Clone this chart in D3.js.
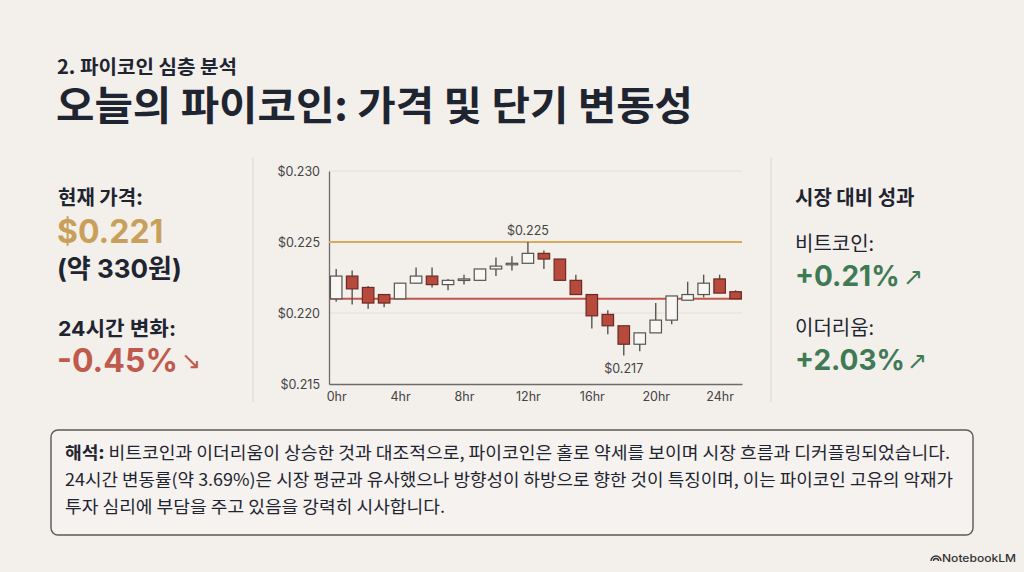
<!DOCTYPE html>
<html><head><meta charset="utf-8">
<script src="https://cdn.jsdelivr.net/npm/d3@7"></script>
<style>
html,body{margin:0;padding:0;background:#f3efeb;}
svg{display:block;}
</style></head>
<body>
<svg id="c" width="1024" height="572"></svg>
<script>
// ---- data ----
const hours  = [0,1,2,3,4,5,6,7,8,9,10,11,12,13,14,15,16,17,18,19,20,21,22,23,24,25];
const opens  = [0.2210,0.2226,0.2218,0.2213,0.2210,0.2221,0.2226,0.2220,0.2223,0.2223,0.2231,0.2234,0.2235,0.2242,0.2238,0.2223,0.2213,0.2199,0.2191,0.2178,0.2186,0.2195,0.2209,0.2213,0.2224,0.2215];
const closes = [0.2226,0.2217,0.2207,0.2207,0.2221,0.2226,0.2220,0.2223,0.2224,0.2231,0.2233,0.2235,0.2242,0.2238,0.2223,0.2213,0.2198,0.2191,0.2178,0.2186,0.2195,0.2212,0.2213,0.2221,0.2214,0.2210];
const highs  = [0.2231,0.2230,0.2219,0.2213,0.2221,0.2232,0.2232,0.2224,0.2227,0.2231,0.2239,0.2240,0.2250,0.2244,0.2238,0.2227,0.2213,0.2202,0.2191,0.2186,0.2207,0.2212,0.2222,0.2227,0.2227,0.2216];
const lows   = [0.2208,0.2206,0.2203,0.2204,0.2210,0.2221,0.2218,0.2216,0.2220,0.2223,0.2226,0.2230,0.2235,0.2231,0.2223,0.2213,0.2189,0.2185,0.2170,0.2173,0.2186,0.2192,0.2209,0.2211,0.2214,0.2210];
const yTicks = [0.215,0.220,0.225,0.230];
const xTicks = [0,4,8,12,16,20,24];
const resistance = 0.225;
const currentPrice = 0.221;
const annotations = [{h:12, v:0.2250, text:"$0.225", pos:"above"},{h:18, v:0.2170, text:"$0.217", pos:"below"}];

const KR = "'Noto Sans CJK KR','Noto Sans',sans-serif";
const NUM = "Inter,'Noto Sans CJK KR',sans-serif";
const dark = "#1f2530";
const gold = "#c9a05a";
const red = "#c05a4c";
const green = "#3f7a55";

const svg = d3.select("#c");

// ---- headings ----
svg.append("text").attr("x",57).attr("y",74).attr("font-family",KR).attr("font-weight",700)
  .attr("font-size",19.5).attr("fill",dark).attr("textLength",180).attr("lengthAdjust","spacingAndGlyphs").text("2. 파이코인 심층 분석");
svg.append("text").attr("x",56).attr("y",120).attr("font-family",KR).attr("font-weight",700)
  .attr("font-size",40).attr("fill",dark).attr("textLength",637).attr("lengthAdjust","spacingAndGlyphs").text("오늘의 파이코인: 가격 및 단기 변동성");

// ---- left panel ----
const L = svg.append("g");
L.append("text").attr("x",58).attr("y",205).attr("font-family",KR).attr("font-weight",700).attr("font-size",20).attr("fill",dark).text("현재 가격:");
L.append("text").attr("x",57).attr("y",243).attr("font-family",NUM).attr("font-weight",700).attr("font-size",32).attr("fill",gold).text("$0.221");
L.append("text").attr("x",57).attr("y",278).attr("font-family",NUM).attr("font-weight",700).attr("font-size",26).attr("fill",dark).text("(약 330원)");
L.append("text").attr("x",58).attr("y",336).attr("font-family",NUM).attr("font-weight",700).attr("font-size",20.5).attr("fill",dark).attr("textLength",118).attr("lengthAdjust","spacingAndGlyphs").text("24시간 변화:");
L.append("text").attr("x",57).attr("y",372).attr("font-family",NUM).attr("font-weight",700).attr("font-size",32).attr("fill",red).text("-0.45%");
L.append("text").attr("x",181).attr("y",369).attr("font-family","'DejaVu Sans',sans-serif").attr("font-size",24).attr("fill",red).text("↘");

// separators
svg.append("line").attr("x1",253).attr("x2",253).attr("y1",157).attr("y2",402).attr("stroke","#dcd7d2").attr("stroke-width",1);
svg.append("line").attr("x1",771).attr("x2",771).attr("y1",157).attr("y2",402).attr("stroke","#dcd7d2").attr("stroke-width",1);

// ---- right panel ----
const R = svg.append("g");
R.append("text").attr("x",795).attr("y",205).attr("font-family",KR).attr("font-weight",700).attr("font-size",20).attr("fill",dark).text("시장 대비 성과");
R.append("text").attr("x",795).attr("y",251).attr("font-family",KR).attr("font-weight",400).attr("font-size",20).attr("fill",dark).text("비트코인:");
R.append("text").attr("x",795).attr("y",286).attr("font-family",NUM).attr("font-weight",700).attr("font-size",28).attr("fill",green).text("+0.21%");
R.append("text").attr("x",903).attr("y",285).attr("font-family","'DejaVu Sans',sans-serif").attr("font-size",24).attr("fill",green).text("↗");
R.append("text").attr("x",795).attr("y",335).attr("font-family",KR).attr("font-weight",400).attr("font-size",20).attr("fill",dark).text("이더리움:");
R.append("text").attr("x",795).attr("y",370).attr("font-family",NUM).attr("font-weight",700).attr("font-size",28).attr("fill",green).text("+2.03%");
R.append("text").attr("x",907).attr("y",369).attr("font-family","'DejaVu Sans',sans-serif").attr("font-size",24).attr("fill",green).text("↗");

// ---- chart ----
const x = d3.scaleLinear().domain([-0.45,25.4]).range([329,742]);
const y = d3.scaleLinear().domain([0.215,0.230]).range([384,171]);
const g = svg.append("g");

// gridlines
g.selectAll("line.grid").data(yTicks.filter(t=>t>0.215)).enter().append("line")
  .attr("x1",x.range()[0]).attr("x2",x.range()[1]).attr("y1",d=>y(d)).attr("y2",d=>y(d))
  .attr("stroke","#e3deda").attr("stroke-width",1);

// y axis
const yAxis = d3.axisLeft(y).tickValues(yTicks).tickFormat(d=>"$"+d3.format(".3f")(d)).tickSize(0).tickPadding(9);
const ya = g.append("g").attr("transform",`translate(${x.range()[0]},0)`).call(yAxis);
ya.select(".domain").attr("stroke","#6b6b6b").attr("stroke-width",1.3);
ya.selectAll("text").attr("font-family",NUM).attr("font-size",12.5).attr("fill","#444");

// x axis
const xAxis = d3.axisBottom(x).tickValues(xTicks).tickFormat(d=>d+"hr").tickSize(0).tickPadding(8);
const xa = g.append("g").attr("transform",`translate(0,${y.range()[0]})`).call(xAxis);
xa.select(".domain").attr("stroke","#6b6b6b").attr("stroke-width",1.3);
xa.selectAll("text").attr("font-family",NUM).attr("font-size",12.5).attr("fill","#444");

// reference lines
g.append("line").attr("x1",x.range()[0]).attr("x2",x.range()[1]).attr("y1",y(resistance)).attr("y2",y(resistance))
  .attr("stroke","#d6ab5e").attr("stroke-width",2);
g.append("line").attr("x1",x.range()[0]).attr("x2",x.range()[1]).attr("y1",y(currentPrice)).attr("y2",y(currentPrice))
  .attr("stroke","#c0574a").attr("stroke-width",2);

// candles
const data = hours.map((h,i)=>({h,o:opens[i],c:closes[i],hi:highs[i],lo:lows[i]}));
const cw = 11.5;
const cg = g.selectAll("g.candle").data(data).enter().append("g");
cg.append("line").attr("x1",d=>x(d.h)).attr("x2",d=>x(d.h)).attr("y1",d=>y(d.hi)).attr("y2",d=>y(d.lo))
  .attr("stroke","#555").attr("stroke-width",1.4);
cg.append("rect").attr("x",d=>x(d.h)-cw/2).attr("width",cw)
  .attr("y",d=>y(Math.max(d.o,d.c))).attr("height",d=>Math.max(1.5,Math.abs(y(d.o)-y(d.c))))
  .attr("fill",d=>d.c>=d.o?"#f8f6f3":"#b54a3d")
  .attr("stroke",d=>d.c>=d.o?"#555":"#6e2a22").attr("stroke-width",1.2);

// annotations
g.selectAll("text.ann").data(annotations).enter().append("text")
  .attr("x",d=>x(d.h)).attr("y",d=>d.pos==="above"?y(d.v)-7:y(d.v)+17)
  .attr("text-anchor","middle").attr("font-family",NUM).attr("font-size",12.5).attr("fill","#444").text(d=>d.text);

// ---- interpretation box ----
svg.append("rect").attr("x",51).attr("y",430).attr("width",922).attr("height",105).attr("rx",7)
  .attr("fill","#f5f2ef").attr("stroke","#5a5a5a").attr("stroke-width",1.4);
const lines = [
  {w:885, parts:[{t:"해석:",b:true},{t:" 비트코인과 이더리움이 상승한 것과 대조적으로, 파이코인은 홀로 약세를 보이며 시장 흐름과 디커플링되었습니다.",b:false}]},
  {w:888, parts:[{t:"24시간 변동률(약 3.69%)은 시장 평균과 유사했으나 방향성이 하방으로 향한 것이 특징이며, 이는 파이코인 고유의 악재가",b:false}]},
  {w:380, parts:[{t:"투자 심리에 부담을 주고 있음을 강력히 시사합니다.",b:false}]}
];
lines.forEach((ln,i)=>{
  const t = svg.append("text").attr("x",65).attr("y",459+i*27).attr("font-family",KR).attr("font-size",17)
    .attr("fill",dark).attr("textLength",ln.w).attr("lengthAdjust","spacingAndGlyphs");
  ln.parts.forEach(s=>t.append("tspan").attr("font-weight",s.b?700:400).text(s.t));
});

// ---- footer logo ----
const logo = svg.append("g").attr("transform","translate(931,561)");
logo.append("path").attr("d","M0,0 a5,5 0 0 1 10,0 M2.5,0 a2.5,2.5 0 0 1 5,0")
  .attr("fill","none").attr("stroke","#333").attr("stroke-width",1.4);
svg.append("text").attr("x",1016).attr("y",562).attr("text-anchor","end").attr("font-family",NUM).attr("font-weight",500)
  .attr("font-size",11).attr("fill","#333").attr("textLength",74).attr("lengthAdjust","spacingAndGlyphs").text("NotebookLM");
</script>
</body></html>
